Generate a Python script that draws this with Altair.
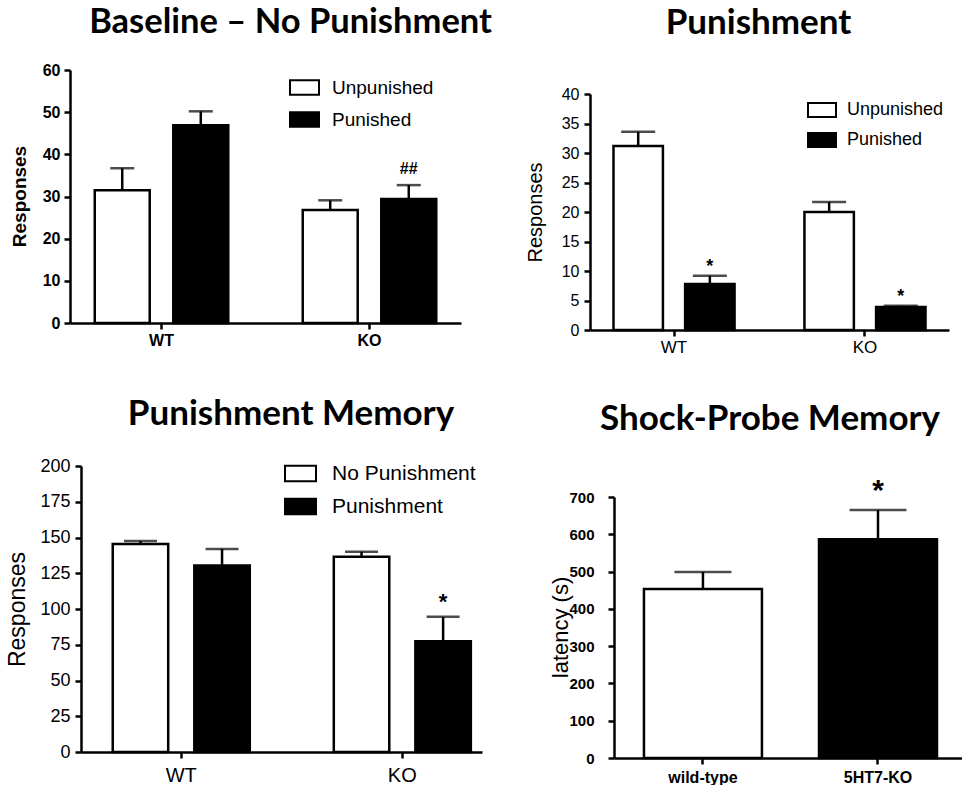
import altair as alt
import pandas as pd

AXIS_FONT = "Liberation Sans"
TITLE_FONT = "Lato"

# ---- Baseline – No Punishment ----
base_groups = ["WT", "KO"]
base_series = ["Unpunished", "Punished"]
base_mean = [31.5, 46.9, 26.8, 29.4]      # WT-U, WT-P, KO-U, KO-P
base_sem = [5.2, 3.3, 2.3, 3.3]
base_note = ["", "", "", "##"]

# ---- Punishment ----
pun_groups = ["WT", "KO"]
pun_series = ["Unpunished", "Punished"]
pun_mean = [31.2, 7.8, 20.0, 3.9]
pun_sem = [2.4, 1.4, 1.7, 0.2]
pun_note = ["", "*", "", "*"]

# ---- Punishment Memory ----
mem_groups = ["WT", "KO"]
mem_series = ["No Punishment", "Punishment"]
mem_mean = [145.5, 130.5, 136.5, 77.5]
mem_sem = [2.0, 11.5, 3.5, 17.0]
mem_note = ["", "", "", "*"]

# ---- Shock-Probe Memory ----
shock_groups = ["wild-type", "5HT7-KO"]
shock_mean = [453, 587]
shock_sem = [46, 78]
shock_note = ["", "*"]

FILLS = ["white", "black"]
RECT = "M-1,-0.5H1V0.5H-1Z"


def grouped_frame(groups, series, mean, sem, note):
    rows = []
    i = 0
    for g in groups:
        for s in series:
            rows.append({"group": g, "series": s, "mean": mean[i],
                         "upper": mean[i] + sem[i], "note": note[i]})
            i += 1
    return pd.DataFrame(rows)


def axis_common():
    return dict(domainColor="black", domainWidth=2.5, tickColor="black",
                tickWidth=2.5, tickSize=6, labelColor="black", labelFont=AXIS_FONT)


def panel_title(text, size, dx, offset):
    return alt.TitleParams(text, font=TITLE_FONT, fontSize=size, fontWeight="bold",
                           color="black", anchor="middle", frame="group",
                           dx=dx, offset=offset)


def grouped_panel(df, groups, series, cfg):
    x_scale = alt.Scale(paddingInner=cfg["pi"], paddingOuter=cfg["po"],
                        align=cfg.get("align", 0.5),
                        range=[cfg.get("x0", 0), cfg["width"]])
    x_axis = alt.Axis(title=None, labelAngle=0, labelFontSize=cfg["xfs"],
                      labelFontWeight=cfg["xfw"], labelPadding=cfg["xpad"],
                      **axis_common())
    y_axis = alt.Axis(values=cfg["yticks"], grid=False, title="Responses",
                      labelFontSize=cfg["yfs"], labelFontWeight=cfg["yfw"],
                      labelPadding=cfg["ypad"],
                      titleColor="black", titleFont=AXIS_FONT,
                      titleFontSize=cfg["tfs"], titleFontWeight=cfg["tfw"],
                      titleX=cfg["titleX"], titleY=cfg["titleY"],
                      titleBaseline="bottom", titleAlign="center",
                      offset=-cfg.get("x0", 0), **axis_common())
    y_scale = alt.Scale(domain=[0, cfg["ymax"]], nice=False, zero=True,
                        range=[cfg["height"], cfg.get("y0", 0)])
    off_scale = alt.Scale(paddingInner=cfg["opi"], paddingOuter=0)

    def enc(field):
        return dict(
            x=alt.X("group:N", sort=groups, scale=x_scale, axis=x_axis),
            xOffset=alt.XOffset("series:N", sort=series, scale=off_scale),
            y=alt.Y(f"{field}:Q", scale=y_scale, axis=y_axis),
        )

    legend = alt.Legend(title=None, orient="none", legendX=cfg["lx"], legendY=cfg["ly"],
                        symbolType=RECT, symbolSize=cfg["lsym"] ** 2,
                        symbolStrokeColor="black", symbolStrokeWidth=2,
                        labelFont=AXIS_FONT, labelFontSize=cfg["lfs"],
                        labelColor="black", labelOffset=cfg["loff"],
                        rowPadding=cfg["lrow"], padding=0)

    base = alt.Chart(df)
    bars = base.mark_bar(stroke="black", strokeWidth=2.5).encode(
        fill=alt.Fill("series:N", sort=series,
                      scale=alt.Scale(domain=series, range=FILLS), legend=legend),
        **enc("mean"))
    whisker = base.mark_rule(color="black", strokeWidth=2.5).encode(
        y2="upper:Q", **enc("mean"))
    cap = base.mark_tick(color="black", thickness=2.5, size=cfg["cap"],
                         orient="horizontal").encode(**enc("upper"))
    notes = base.mark_text(font=AXIS_FONT, fontSize=cfg["nfs"], fontWeight="bold",
                           color="black", baseline="alphabetic", dy=cfg["ndy"]).encode(
        text="note:N", **enc("upper"))

    return alt.layer(bars, whisker, cap, notes).properties(
        width=cfg["width"], height=cfg["height"],
        title=panel_title(cfg["title"], cfg["tsize"], cfg["tdx"], cfg["toff"]))


p1 = grouped_panel(
    grouped_frame(base_groups, base_series, base_mean, base_sem, base_note),
    base_groups, base_series,
    dict(width=391, height=253, ymax=60, yticks=list(range(0, 61, 10)),
         pi=0.358, po=0.119, opi=0.3, cap=24,
         xfs=16, xfw="bold", xpad=3, yfs=16, yfw="bold", ypad=4,
         tfs=19, tfw="bold", titleX=-41, titleY=126,
         lx=219, ly=2, lsym=29, lfs=19, loff=12, lrow=5,
         nfs=16, ndy=-11, title="Baseline – No Punishment", tsize=34.5, tdx=25, toff=22))

p2 = grouped_panel(
    grouped_frame(pun_groups, pun_series, pun_mean, pun_sem, pun_note),
    pun_groups, pun_series,
    dict(width=359, height=260, y0=24, ymax=40, yticks=list(range(0, 41, 5)),
         pi=0.366, po=0.123, opi=0.31, cap=34,
         xfs=17, xfw="normal", xpad=3, yfs=16, yfw="normal", ypad=5,
         tfs=20, tfw="normal", titleX=-45, titleY=142,
         lx=217, ly=25, lsym=28, lfs=18, loff=10, lrow=4,
         nfs=18, ndy=-4, title="Punishment", tsize=35, tdx=-11, toff=29.5))

p3 = grouped_panel(
    grouped_frame(mem_groups, mem_series, mem_mean, mem_sem, mem_note),
    mem_groups, mem_series,
    dict(width=412, x0=11, height=286, ymax=200, yticks=list(range(0, 201, 25)),
         pi=0.38, po=0.097, align=0.74, opi=0.32, cap=33,
         xfs=20, xfw="normal", xpad=7, yfs=18, yfw="normal", ypad=5,
         tfs=23, tfw="normal", titleX=-52, titleY=143,
         lx=214, ly=-9, lsym=31, lfs=21, loff=15, lrow=4,
         nfs=22, ndy=-8, title="Punishment Memory", tsize=35, tdx=15, toff=25.5))

# ---- single-group panel ----
shock_df = pd.DataFrame({
    "group": shock_groups,
    "mean": shock_mean,
    "upper": [m + s for m, s in zip(shock_mean, shock_sem)],
    "note": shock_note,
})

S_X0, S_W, S_H, S_Y0 = 24, 372, 292, 31
s_x = alt.X("group:N", sort=shock_groups,
            scale=alt.Scale(paddingInner=0.326, paddingOuter=0.157, align=0.545,
                            range=[S_X0, S_W]),
            axis=alt.Axis(title=None, labelAngle=0, labelFontSize=16,
                          labelFontWeight="bold", labelPadding=5, **axis_common()))
s_yaxis = alt.Axis(values=list(range(0, 701, 100)), grid=False, title="latency (s)",
                   labelFontSize=15, labelFontWeight="bold", labelPadding=14,
                   titleColor="black", titleFont=AXIS_FONT, titleFontSize=22,
                   titleFontWeight="normal", titleX=-42, titleY=161,
                   titleBaseline="bottom", titleAlign="center",
                   offset=-S_X0, **axis_common())
s_yscale = alt.Scale(domain=[0, 700], nice=False, zero=True, range=[S_H, S_Y0])


def s_y(field):
    return alt.Y(f"{field}:Q", scale=s_yscale, axis=s_yaxis)


s_base = alt.Chart(shock_df)
s_bars = s_base.mark_bar(stroke="black", strokeWidth=2.5).encode(
    x=s_x, y=s_y("mean"),
    fill=alt.Fill("group:N", sort=shock_groups,
                  scale=alt.Scale(domain=shock_groups, range=FILLS), legend=None))
s_whisker = s_base.mark_rule(color="black", strokeWidth=2.5).encode(
    x=s_x, y=s_y("mean"), y2="upper:Q")
s_cap = s_base.mark_tick(color="black", thickness=2.5, size=57,
                         orient="horizontal").encode(x=s_x, y=s_y("upper"))
s_notes = s_base.mark_text(font=AXIS_FONT, fontSize=30, fontWeight="bold",
                           color="black", baseline="alphabetic", dy=-10).encode(
    x=s_x, y=s_y("upper"), text="note:N")

p4 = alt.layer(s_bars, s_whisker, s_cap, s_notes).properties(
    width=S_W, height=S_H,
    title=panel_title("Shock-Probe Memory", 35, -6, 29.5))

chart = (
    alt.concat(p1, p2, p3, p4, columns=2, align="each", bounds="flush",
               spacing={"row": 136, "column": 108})
    .resolve_scale(x="independent", y="independent", xOffset="independent",
                   fill="independent")
    .properties(padding={"left": 6, "top": 4, "right": 0, "bottom": 0},
                background="white")
    .configure_view(stroke=None)
)

chart.save("out.html", embed_options={"renderer": "svg", "actions": False})
